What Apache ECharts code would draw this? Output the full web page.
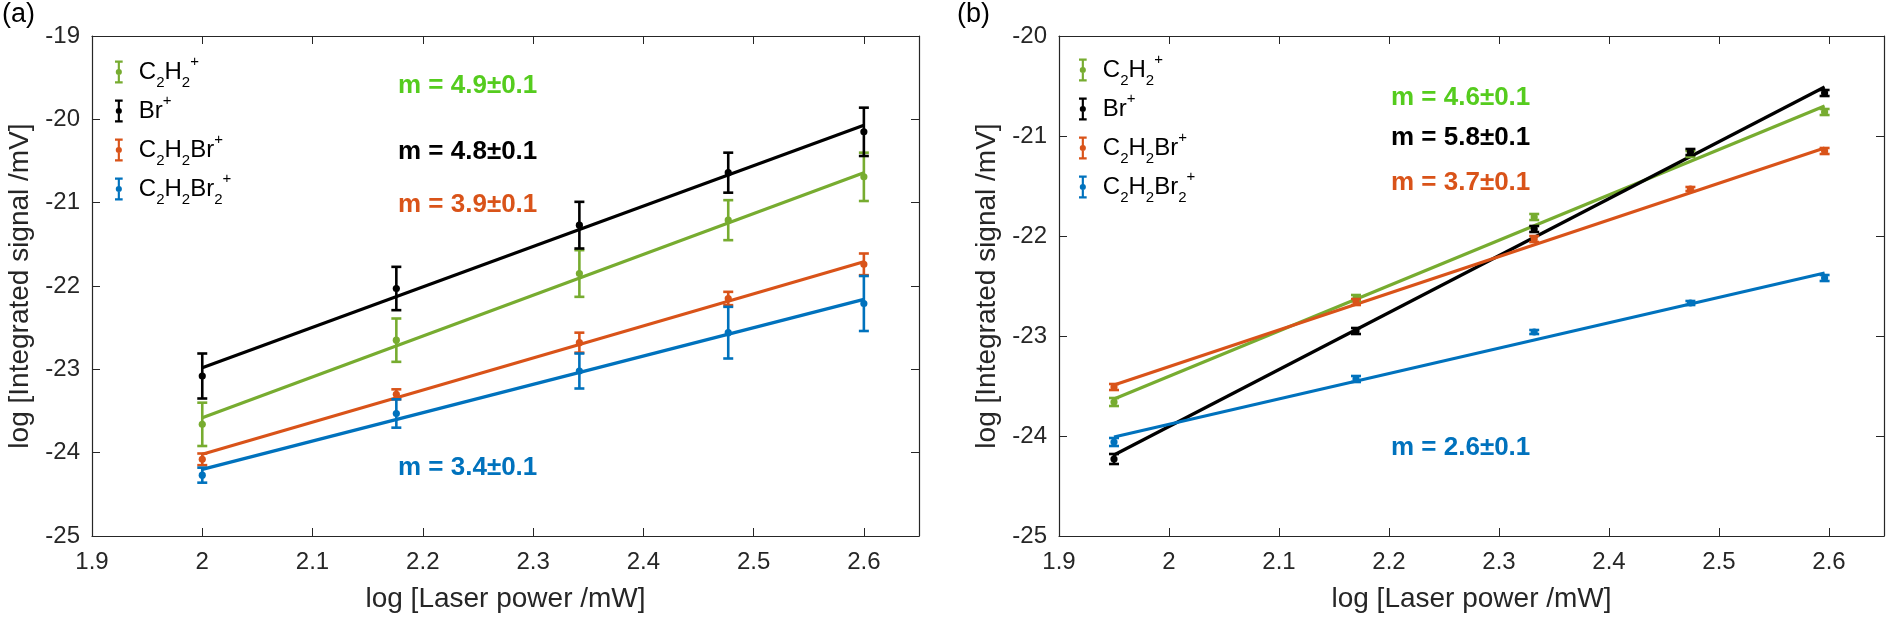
<!DOCTYPE html>
<html>
<head>
<meta charset="utf-8">
<title>Laser power dependence</title>
<script src="https://cdn.jsdelivr.net/npm/echarts@6/dist/echarts.min.js"></script>
<style>
  html, body { margin: 0; padding: 0; background: #fff; }
  #chart { width: 1888px; height: 620px; }
</style>
</head>
<body>
<div id="chart"></div>
<script>
// ions, in legend order
var ions = ['C2H2+', 'Br+', 'C2H2Br+', 'C2H2Br2+'];
var ionLabels = [
  'C{sub|2}H{sub|2}{sup|+}',
  'Br{sup|+}',
  'C{sub|2}H{sub|2}Br{sup|+}',
  'C{sub|2}H{sub|2}Br{sub|2}{sup|+}'
];
var ionColors = ['#77AC30', '#000000', '#D95319', '#0072BD'];
var slopeColors = ['#55CC1E', '#000000', '#D95319', '#0072BD'];

// (a) log laser power and log signal
var powerA = [2.0, 2.176, 2.342, 2.477, 2.6];
var c2h2A = [-23.66, -22.65, -21.85, -21.21, -20.69];
var c2h2ErrA = [0.26, 0.26, 0.28, 0.24, 0.29];
var brA = [-23.08, -22.03, -21.27, -20.64, -20.15];
var brErrA = [0.27, 0.26, 0.28, 0.24, 0.29];
var c2h2brA = [-24.08, -23.30, -22.68, -22.15, -21.74];
var c2h2brErrA = [0.07, 0.06, 0.12, 0.08, 0.13];
var c2h2br2A = [-24.27, -23.53, -23.02, -22.56, -22.21];
var c2h2br2ErrA = [0.09, 0.17, 0.21, 0.31, 0.33];
// fitted lines, value at first and last power
var fitA = [[-23.58, -20.64], [-22.98, -20.07], [-24.02, -21.71], [-24.20, -22.16]];
var slopesA = ['m = 4.9±0.1', 'm = 4.8±0.1', 'm = 3.9±0.1', 'm = 3.4±0.1'];

// (b)
var powerB = [1.950, 2.170, 2.332, 2.474, 2.596];
var c2h2B = [-23.66, -22.62, -21.81, -21.18, -20.76];
var c2h2ErrB = [0.04, 0.03, 0.03, 0.03, 0.03];
var brB = [-24.23, -22.95, -21.93, -21.16, -20.57];
var brErrB = [0.05, 0.03, 0.03, 0.03, 0.03];
var c2h2brB = [-23.51, -22.66, -22.03, -21.53, -21.15];
var c2h2brErrB = [0.03, 0.03, 0.03, 0.02, 0.03];
var c2h2br2B = [-24.06, -23.43, -22.96, -22.67, -22.42];
var c2h2br2ErrB = [0.04, 0.03, 0.02, 0.02, 0.03];
var fitB = [[-23.63, -20.70], [-24.19, -20.51], [-23.49, -21.12], [-24.01, -22.37]];
var slopesB = ['m = 4.6±0.1', 'm = 5.8±0.1', 'm = 3.7±0.1', 'm = 2.6±0.1'];

// axis ticks
var xMin = 1.9, xMax = 2.65, xStep = 0.1;
var yRangeA = [-25, -19];
var yRangeB = [-25, -20];

var FONT = '"Liberation Sans", Arial, Helvetica, sans-serif';
var INK = '#262626';

// legend icon: error bar with dot
var errIcon = 'path://M0,0L10,0L10,3L0,3Z M3.6,0L6.4,0L6.4,30L3.6,30Z M0,27L10,27L10,30L0,30Z ' +
  'M5,11A4,4,0,1,1,5,19A4,4,0,1,1,5,11Z';

function errRender(params, api) {
  var x = api.value(0), y = api.value(1), e = api.value(2);
  var hi = api.coord([x, y + e]);
  var lo = api.coord([x, y - e]);
  var c = api.coord([x, y]);
  var color = api.visual('color');
  var w = 5;
  var line = { stroke: color, lineWidth: 2.6 };
  return {
    type: 'group',
    children: [
      { type: 'line', shape: { x1: hi[0], y1: hi[1], x2: lo[0], y2: lo[1] }, style: line },
      { type: 'line', shape: { x1: hi[0] - w, y1: hi[1], x2: hi[0] + w, y2: hi[1] }, style: line },
      { type: 'line', shape: { x1: lo[0] - w, y1: lo[1], x2: lo[0] + w, y2: lo[1] }, style: line },
      { type: 'circle', shape: { cx: c[0], cy: c[1], r: 3.6 }, style: { fill: color } }
    ]
  };
}

function zip3(xs, ys, es) {
  return xs.map(function(x, i) { return [x, ys[i], es[i]]; });
}

function xLabel(v) {
  var k = v / xStep;
  return Math.abs(k - Math.round(k)) < 1e-6 ? String(+v.toFixed(1)) : '';
}

function makeAxes(gi, yRange) {
  var tick = { inside: true, length: 8, lineStyle: { color: INK, width: 1 } };
  var line = { show: true, lineStyle: { color: INK, width: 1.2 } };
  var xs = [{
    type: 'value', gridIndex: gi, min: xMin, max: xMax, interval: xStep,
    axisLine: line, axisTick: tick, splitLine: { show: false },
    axisLabel: { formatter: xLabel, margin: 14, fontSize: 24, color: INK, fontFamily: FONT },
    name: 'log [Laser power /mW]', nameLocation: 'middle', nameGap: 49,
    nameTextStyle: { fontSize: 28, color: INK, fontFamily: FONT }
  }, {
    type: 'value', gridIndex: gi, position: 'top', min: xMin, max: xMax, interval: xStep,
    axisLine: line, axisTick: tick, splitLine: { show: false }, axisLabel: { show: false }
  }];
  var ys = [{
    type: 'value', gridIndex: gi, min: yRange[0], max: yRange[1], interval: 1,
    axisLine: line, axisTick: tick, splitLine: { show: false },
    axisLabel: { margin: 12, fontSize: 24, color: INK, fontFamily: FONT },
    name: 'log [Integrated signal /mV]', nameLocation: 'middle', nameGap: 58,
    nameTextStyle: { fontSize: 28, color: INK, fontFamily: FONT }
  }, {
    type: 'value', gridIndex: gi, position: 'right', min: yRange[0], max: yRange[1], interval: 1,
    axisLine: line, axisTick: tick, splitLine: { show: false }, axisLabel: { show: false }
  }];
  return { x: xs, y: ys };
}

function makeSeries(gi, power, sets, errs, fits) {
  var out = [];
  var xi = gi * 2, yi = gi * 2;
  // error bars first so legend picks them
  sets.forEach(function(vals, i) {
    out.push({
      type: 'custom', name: ions[i], xAxisIndex: xi, yAxisIndex: yi,
      itemStyle: { color: ionColors[i] },
      renderItem: errRender, data: zip3(power, vals, errs[i]), z: 3
    });
  });
  fits.forEach(function(f, i) {
    out.push({
      type: 'line', name: ions[i], xAxisIndex: xi, yAxisIndex: yi,
      data: [[power[0], f[0]], [power[power.length - 1], f[1]]],
      showSymbol: false, symbol: 'none', color: ionColors[i],
      lineStyle: { color: ionColors[i], width: 3.2 }, z: 2
    });
  });
  return out;
}

function makeLegend(left, top) {
  return {
    data: ions, orient: 'vertical', left: left, top: top,
    icon: errIcon, itemWidth: 30, itemHeight: 23, itemGap: 3,
    formatter: function(name) { return ionLabels[ions.indexOf(name)]; },
    textStyle: {
      fontSize: 24, color: '#000', fontFamily: FONT, lineHeight: 36,
      rich: {
        sub: { fontSize: 15, fontFamily: FONT, color: '#000', lineHeight: 12, verticalAlign: 'bottom' },
        sup: { fontSize: 15, fontFamily: FONT, color: '#000', lineHeight: 28, verticalAlign: 'top' }
      }
    }
  };
}

function slopeTexts(left, ys, texts) {
  return texts.map(function(t, i) {
    return {
      type: 'text', x: left, y: ys[i],
      style: { text: t, fill: slopeColors[i], font: 'bold 26px ' + FONT, verticalAlign: 'middle' }
    };
  });
}

var axA = makeAxes(0, yRangeA);
var axB = makeAxes(1, yRangeB);

var option = {
  animation: false,
  backgroundColor: '#fff',
  grid: [
    { left: 92, top: 36, width: 827, height: 500 },
    { left: 1059, top: 36, width: 825, height: 500 }
  ],
  xAxis: axA.x.concat(axB.x),
  yAxis: axA.y.concat(axB.y),
  legend: [makeLegend(110, 49), makeLegend(1074, 47)],
  series: makeSeries(0, powerA, [c2h2A, brA, c2h2brA, c2h2br2A],
      [c2h2ErrA, brErrA, c2h2brErrA, c2h2br2ErrA], fitA)
    .concat(makeSeries(1, powerB, [c2h2B, brB, c2h2brB, c2h2br2B],
      [c2h2ErrB, brErrB, c2h2brErrB, c2h2br2ErrB], fitB)),
  graphic: [
    { type: 'text', x: 2, y: 15, style: { text: '(a)', fill: '#000', font: '27px ' + FONT, verticalAlign: 'middle' } },
    { type: 'text', x: 957, y: 15, style: { text: '(b)', fill: '#000', font: '27px ' + FONT, verticalAlign: 'middle' } }
  ].concat(slopeTexts(398, [86, 152, 205, 468], slopesA))
   .concat(slopeTexts(1391, [98, 138, 183, 448], slopesB))
};

var chart = echarts.init(document.getElementById('chart'));
chart.setOption(option);
</script>
</body>
</html>
